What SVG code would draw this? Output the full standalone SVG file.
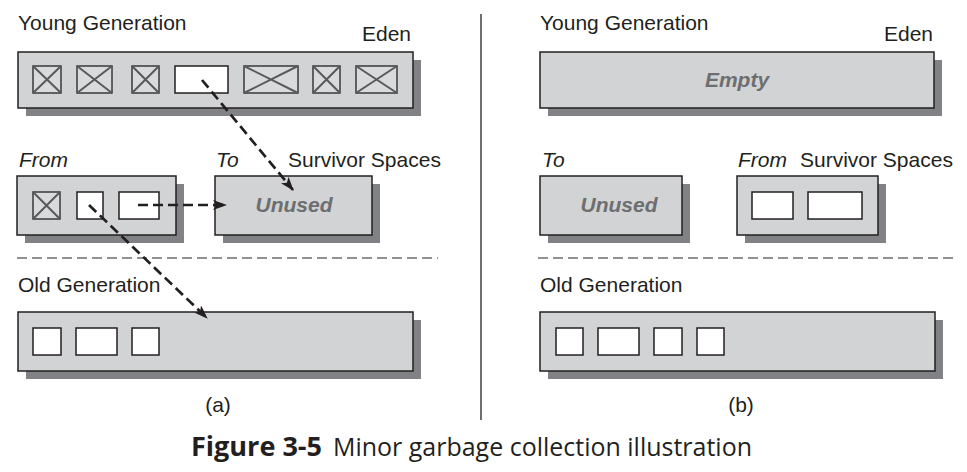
<svg xmlns="http://www.w3.org/2000/svg" width="967" height="472" viewBox="0 0 967 472">
<style>
.t{font-family:"Liberation Sans",Arial,sans-serif;font-size:21px;fill:#231f20}
.it{font-style:italic}
.gray{font-weight:bold;font-style:italic;fill:#6d6e70;text-anchor:middle}
.sh{fill:#808285}
.bx{fill:#d1d3d4;stroke:#231f20;stroke-width:1.5}
.ob{fill:#ffffff;stroke:#231f20;stroke-width:1.5}
.xb{fill:#d9dadb;stroke:#3a3a3a;stroke-width:1.5}
.xl{stroke:#58595b;stroke-width:2}
.dash{stroke:#6d6e70;stroke-width:1.6;stroke-dasharray:10 5;fill:none}
.arr{stroke:#231f20;stroke-width:2.7;stroke-dasharray:10 5;fill:none;marker-end:url(#ah)}
.cap{font-family:"Open Sans","Noto Sans",sans-serif;font-size:25px;fill:#231f20}
</style>
<defs>
<marker id="ah" viewBox="0 0 14 10" refX="13" refY="5" markerWidth="14" markerHeight="10" markerUnits="userSpaceOnUse" orient="auto">
<path d="M0,0 L14,5 L0,10 L3.5,5 Z" fill="#231f20"/>
</marker>
</defs>

<!-- Panel (a) -->
<g id="a-young-label"><text class="t" x="18" y="30">Young Generation</text><text class="t" x="411" y="41" text-anchor="end">Eden</text></g>
<g id="a-eden">
<rect class="sh" x="26" y="60" width="395" height="56"/>
<rect class="bx" x="18" y="52" width="395" height="56"/>
<rect class="xb" x="33" y="66" width="28" height="27"/><path class="xl" d="M33,66 L61,93 M61,66 L33,93"/>
<rect class="xb" x="77" y="66" width="35" height="27"/><path class="xl" d="M77,66 L112,93 M112,66 L77,93"/>
<rect class="xb" x="132" y="66" width="27" height="27"/><path class="xl" d="M132,66 L159,93 M159,66 L132,93"/>
<rect class="ob" x="175" y="66" width="53" height="27"/>
<rect class="xb" x="244" y="66" width="54" height="27"/><path class="xl" d="M244,66 L298,93 M298,66 L244,93"/>
<rect class="xb" x="313" y="66" width="27" height="27"/><path class="xl" d="M313,66 L340,93 M340,66 L313,93"/>
<rect class="xb" x="356" y="66" width="41" height="27"/><path class="xl" d="M356,66 L397,93 M397,66 L356,93"/>
</g>
<g id="a-survivor-labels">
<text class="t it" x="19" y="167">From</text>
<text class="t it" x="216" y="167">To</text>
<text class="t" x="288" y="167">Survivor Spaces</text>
</g>
<g id="a-from">
<rect class="sh" x="25" y="184" width="159" height="59"/>
<rect class="bx" x="17" y="176" width="159" height="59"/>
<rect class="xb" x="33" y="192" width="27" height="27"/><path class="xl" d="M33,192 L60,219 M60,192 L33,219"/>
<rect class="ob" x="77" y="192" width="26" height="27"/>
<rect class="ob" x="119" y="192" width="40" height="27"/>
</g>
<g id="a-to">
<rect class="sh" x="223" y="184" width="157" height="59"/>
<rect class="bx" x="215" y="176" width="157" height="59"/>
<text class="t gray" x="294" y="212">Unused</text>
</g>
<g id="a-old">
<text class="t" x="18" y="292">Old Generation</text>
<rect class="sh" x="26" y="320" width="395" height="59"/>
<rect class="bx" x="18" y="312" width="395" height="59"/>
<rect class="ob" x="33" y="328" width="28" height="27"/>
<rect class="ob" x="76" y="328" width="41" height="27"/>
<rect class="ob" x="132" y="328" width="27" height="27"/>
</g>
<g id="a-caption"><text class="t" x="218" y="412" text-anchor="middle">(a)</text></g>

<!-- Panel (b) -->
<g id="b-young-label"><text class="t" x="540" y="30">Young Generation</text><text class="t" x="933" y="41" text-anchor="end">Eden</text></g>
<g id="b-eden">
<rect class="sh" x="548" y="60" width="394" height="56"/>
<rect class="bx" x="540" y="52" width="394" height="56"/>
<text class="t gray" x="737" y="87">Empty</text>
</g>
<g id="b-survivor-labels">
<text class="t it" x="542" y="167">To</text>
<text class="t it" x="738" y="167">From</text>
<text class="t" x="800" y="167">Survivor Spaces</text>
</g>
<g id="b-to">
<rect class="sh" x="548" y="184" width="142" height="59"/>
<rect class="bx" x="540" y="176" width="142" height="59"/>
<text class="t gray" x="619" y="212">Unused</text>
</g>
<g id="b-from">
<rect class="sh" x="745" y="184" width="141" height="59"/>
<rect class="bx" x="737" y="176" width="141" height="59"/>
<rect class="ob" x="752" y="192" width="41" height="27"/>
<rect class="ob" x="808" y="192" width="54" height="27"/>
</g>
<g id="b-old">
<text class="t" x="540" y="292">Old Generation</text>
<rect class="sh" x="548" y="320" width="395" height="59"/>
<rect class="bx" x="540" y="312" width="395" height="59"/>
<rect class="ob" x="556" y="328" width="27" height="27"/>
<rect class="ob" x="598" y="328" width="41" height="27"/>
<rect class="ob" x="654" y="328" width="28" height="27"/>
<rect class="ob" x="697" y="328" width="27" height="27"/>
</g>
<g id="b-caption"><text class="t" x="741" y="412" text-anchor="middle">(b)</text></g>

<!-- Separators -->
<g id="separators">
<line x1="481" y1="14" x2="481" y2="420" stroke="#231f20" stroke-width="1.3"/>
<line class="dash" x1="17" y1="258" x2="438" y2="258"/>
<line class="dash" x1="538" y1="258" x2="956" y2="258"/>
</g>

<!-- Connectors -->
<g id="connectors">
<line class="arr" x1="202" y1="80" x2="293" y2="190"/>
<line class="arr" x1="138" y1="205" x2="226" y2="205"/>
<line class="arr" x1="89" y1="205" x2="207" y2="318"/>
</g>

<g id="figure-caption">
<text class="cap" y="456"><tspan x="191" font-weight="bold" font-size="26" textLength="131" lengthAdjust="spacingAndGlyphs">Figure 3-5</tspan><tspan x="333" textLength="419" lengthAdjust="spacingAndGlyphs">Minor garbage collection illustration</tspan></text>
</g>
</svg>
